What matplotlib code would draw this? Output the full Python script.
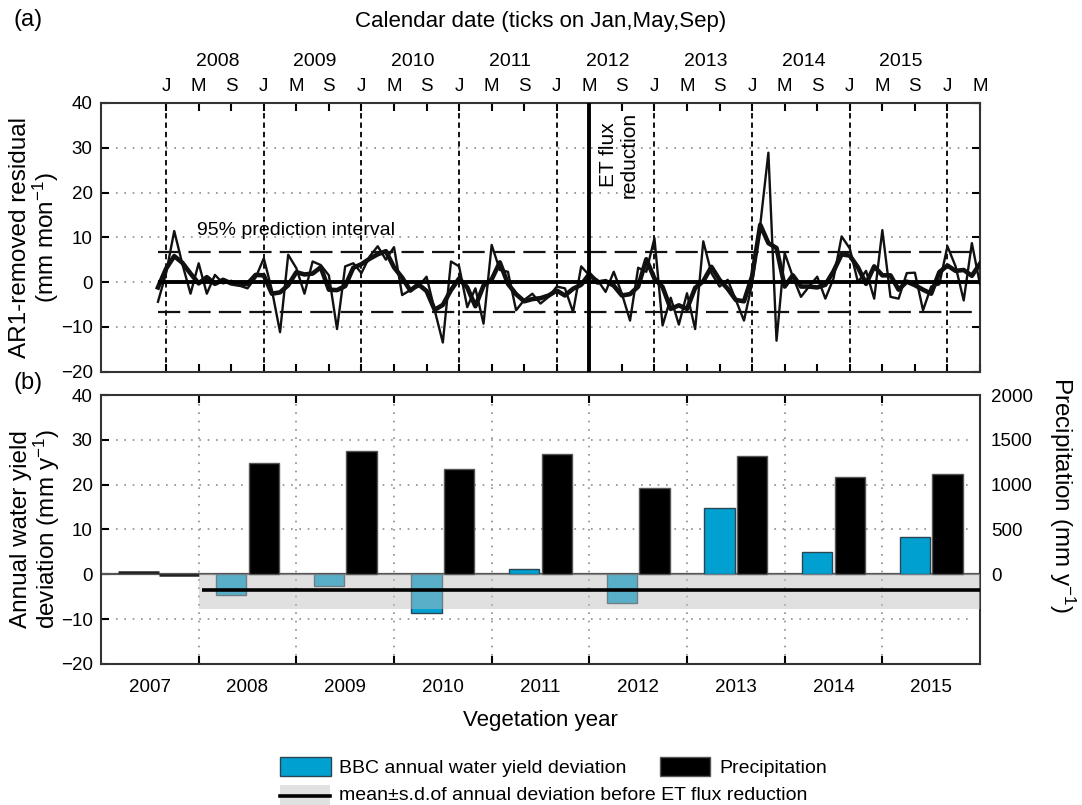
import matplotlib
matplotlib.use("Agg")
import matplotlib.pyplot as plt
import numpy as np
import matplotlib.transforms as mtrans
from matplotlib.patches import Patch, Rectangle
from matplotlib.lines import Line2D

plt.rcParams['font.family'] = ['Liberation Sans', 'DejaVu Sans']
plt.rcParams['mathtext.fontset'] = 'custom'
plt.rcParams['mathtext.rm'] = 'Liberation Sans'
plt.rcParams['mathtext.it'] = 'Liberation Sans'

# ---------------- data ----------------
series_start = (2007, 12)          # first month of the monthly residual series
resid_monthly = [
    -4.4, 2.0, 11.4, 4.0, -2.6, 4.2, -2.6, 1.6, -0.3, 0.3, -0.8, -1.4, 1.0,
    5.3, -1.8, -11.2, 6.1, 3.1, -2.6, 4.6, 3.8, 1.5, -10.5, 3.5, 4.2,
    2.0, 5.7, 8.0, 5.0, 7.8, -2.9, -1.8, -1.0, 1.2, -6.3, -13.5, 4.6,
    3.5, -5.6, -1.4, -9.3, 8.3, 2.7, 2.3, -6.3, -4.0, -2.6, -4.8, -3.3,
    -1.0, -1.4, -6.7, 3.5, 1.5, 0.5, -2.2, 2.3, -2.6, -8.6, 3.2, 2.3,
    9.8, -9.7, -3.5, -9.5, -2.5, -10.5, 9.1, 2.0, -1.0, 0.5, -4.0, -8.6,
    -0.3, 12.8, 28.9, -13.1, 6.5, 1.2, -3.3, -1.0, 1.2, -3.7, 0.8, 10.2,
    7.5, 0.0, 2.5, -3.7, 11.6, -3.3, -3.7, 2.0, 2.1, -6.3, -1.0, -0.5,
    8.0, 3.5, -4.1, 8.7, -0.5]
resid_smooth = [
    -1.2, 3.0, 5.8, 4.3, 1.9, -0.3, 1.1, -0.4, 0.5, -0.3, -0.6, -0.4, 1.6,
    1.5, -2.6, -2.3, -0.7, 2.2, 1.7, 1.9, 3.3, -1.7, -1.8, -0.9, 3.2,
    4.0, 5.2, 6.2, 6.9, 3.3, 1.0, -1.9, -0.5, -2.0, -6.2, -5.1, -1.8,
    0.8, -1.2, -5.4, -0.8, 0.6, 4.4, -0.4, -2.7, -4.3, -3.8, -3.6, -3.0,
    -1.9, -3.0, -1.5, -0.6, 1.8, -0.1, 0.2, -0.8, -3.0, -2.7, -1.0, 5.1,
    0.8, -1.1, -6.0, -5.2, -6.0, -1.3, 0.2, 3.4, 0.5, -1.5, -4.0, -4.3,
    1.3, 12.8, 8.7, 7.6, -1.0, 1.5, -1.0, -1.0, -1.2, -0.6, 2.4, 6.2,
    5.9, 3.3, -0.4, 3.5, 1.5, 1.5, -1.7, 0.1, -0.7, -1.7, -2.6, 2.2,
    3.7, 2.5, 2.7, 1.4, 4.1]
pred_interval = 6.7
et_reduction = (2012, 5)
calendar_years = [2008, 2009, 2010, 2011, 2012, 2013, 2014, 2015]
month_letters = ['J', 'M', 'S']

veg_years = [2008, 2009, 2010, 2011, 2012, 2013, 2014, 2015]
yield_dev = [-4.5, -2.7, -8.6, 1.1, -6.3, 14.9, 4.9, 8.3]
precip = [1244, 1375, 1170, 1340, 964, 1322, 1083, 1117]
all_veg_years = [2007] + veg_years
dev_2007 = [0.45, -0.15]
mean_before = -3.4
band_low, band_high = -7.8, 0.0

BLUE = '#00a0d0'


def mi(year, month):
    """month index relative to Jan 2008"""
    return (year - 2008) * 12 + (month - 1)


fig = plt.figure(figsize=(10.82, 8.05), dpi=100)
H, W = 805.0, 1082.0
L, R = 101, 980
ax1 = fig.add_axes([L / W, 1 - 371.6 / H, (R - L) / W, 268.6 / H])
ax2 = fig.add_axes([L / W, 1 - 664 / H, (R - L) / W, 269 / H])

FS_TICK = 13.5
FS_LAB = 16
dot_ls = (0, (1, 4))
spine_c = '#333333'

# ---------------- panel (a) ----------------
x0 = mi(*series_start)
xs = np.arange(len(resid_monthly)) + x0
xmin, xmax = mi(2007, 5), mi(2016, 5)
ax1.set_xlim(xmin, xmax)
ax1.set_ylim(-20, 40)

for yv in [30, 20, 10, 0, -10]:
    ax1.hlines(yv, xmin + 1.8, xmax - 1, colors='#8c8c8c', linestyles=dot_ls, lw=1.2, zorder=1)
for Y in calendar_years + [2016]:
    ax1.axvline(mi(Y, 1), color='black', ls=(0, (3, 2.2)), lw=1.3, zorder=2)
ax1.axvline(mi(*et_reduction), color='black', lw=2.8, zorder=5)

ax1.hlines([pred_interval, -pred_interval], xs[0], xs[-1], colors='#111111',
           linestyles=(0, (10, 3.7)), lw=1.6, zorder=3)
ax1.plot(xs, resid_monthly, color='#111111', lw=1.7, zorder=4)
ax1.plot(xs, resid_smooth, color='#111111', lw=3.3, zorder=4, solid_joinstyle='round')
ax1.hlines(0, xs[0], xs[-1], colors='black', lw=2.8, zorder=4)

ax1.text(mi(2008, 4) + 0.8, 11.6, '95% prediction interval', fontsize=14,
         ha='left', va='center', zorder=6)
ax1.text(mi(*et_reduction) + 3.6, 28.5, 'ET flux\nreduction', rotation=90, fontsize=15,
         ha='center', va='center', multialignment='center', linespacing=1.1, zorder=6)

tk = list(range(mi(2008, 1), xmax + 1, 4))
ax1.set_xticks(tk)
ax1.set_xticklabels([month_letters[i % 3] for i in range(len(tk))])
ax1.tick_params(axis='x', top=True, bottom=True, labeltop=True, labelbottom=False,
                direction='in', length=6, width=1.5, pad=6, labelsize=FS_TICK)
ax1.set_yticks(range(-20, 41, 10))
ax1.tick_params(axis='y', left=True, right=True, direction='in', length=6, width=1.5,
                pad=6, labelsize=FS_TICK)
trans1 = mtrans.blended_transform_factory(ax1.transData, ax1.transAxes)
for Y in calendar_years:
    ax1.text(mi(Y, 7) + 0.3, 1.155, str(Y), transform=trans1, ha='center', va='center',
             fontsize=14)
for s in ax1.spines.values():
    s.set_linewidth(1.5)
    s.set_color(spine_c)

# ---------------- panel (b) ----------------
ax2.set_xlim(xmin, xmax)
ax2.set_ylim(-20, 40)
for yv in [30, 20, 10, -10]:
    ax2.hlines(yv, xmin + 1.8, xmax - 1, colors='#8c8c8c', linestyles=dot_ls, lw=1.2, zorder=1)
for Y in veg_years:
    ax2.axvline(mi(Y, 5), color='#8c8c8c', ls=dot_ls, lw=1.2, zorder=1)

ax2.axhline(0, color='#555555', lw=1.6, zorder=2)
veg_start = np.array([mi(Y, 5) for Y in veg_years])
bw = 3.7
ax2.bar(veg_start + 4, yield_dev, width=bw, color=BLUE, edgecolor='#2b4652', lw=1.0, zorder=3)

# partial 2007 vegetation year
s07 = mi(2007, 5)
ax2.hlines(dev_2007[0], s07 + 2.1, s07 + 7.1, colors='#222222', lw=1.8, zorder=3)
ax2.hlines(dev_2007[1], s07 + 7.1, s07 + 12, colors='#222222', lw=1.8, zorder=3)

ax2.fill_between([veg_start[0], xmax], band_low, band_high, color='#bfbfbf', alpha=0.47,
                 lw=0, zorder=4)
ax2.hlines(mean_before, veg_start[0] + 0.4, xmax, colors='black', lw=2.6, zorder=5)

ax2.set_xticks(list(veg_start))
ax2.set_xticklabels([])
ax2.set_xticks([mi(Y, 5) + 6 for Y in all_veg_years], minor=True)
ax2.set_xticklabels([str(Y) for Y in all_veg_years], minor=True)
ax2.tick_params(axis='x', which='major', top=True, bottom=True, direction='in', length=6,
                width=1.5)
ax2.tick_params(axis='x', which='minor', length=0, pad=11, labelsize=FS_TICK)
ax2.set_yticks(range(-20, 41, 10))
ax2.tick_params(axis='y', left=True, right=True, direction='in', length=6, width=1.5,
                pad=6, labelsize=FS_TICK)
for s in ax2.spines.values():
    s.set_linewidth(1.5)
    s.set_color(spine_c)

ax2r = ax2.twinx()
ax2r.set_ylim(-1000, 2000)
ax2r.bar(veg_start + 8, precip, width=bw, color='black', edgecolor='#555555', lw=1.0, zorder=3)
ax2r.set_yticks([0, 500, 1000, 1500, 2000])
ax2r.tick_params(axis='y', length=0, pad=8, labelsize=FS_TICK)
for s in ax2r.spines.values():
    s.set_visible(False)

# ---------------- texts ----------------
fig.text(28 / W, 1 - 20 / H, '(a)', fontsize=17, ha='center', va='center')
fig.text(28 / W, 1 - 383 / H, '(b)', fontsize=17, ha='center', va='center')
fig.text(540.5 / W, 1 - 22 / H, 'Calendar date (ticks on Jan,May,Sep)', fontsize=FS_LAB,
         ha='center', va='center')
fig.text(540.5 / W, 1 - 720 / H, 'Vegetation year', fontsize=FS_LAB, ha='center', va='center')
fig.text(35 / W, 1 - 237 / H, 'AR1-removed residual\n(mm mon$^{-1}$)', fontsize=17.5,
         rotation=90, ha='center', va='center', multialignment='center', linespacing=0.95)
fig.text(36 / W, 1 - 529.5 / H, 'Annual water yield\ndeviation (mm y$^{-1}$)', fontsize=17.5,
         rotation=90, ha='center', va='center', multialignment='center', linespacing=0.95)
fig.text(1062 / W, 1 - 495 / H, 'Precipitation (mm y$^{-1}$)', fontsize=17.5,
         rotation=270, ha='center', va='center')

# ---------------- legend ----------------
h_blue = Patch(facecolor=BLUE, edgecolor='#2b4652', lw=1.0)
h_black = Patch(facecolor='black', edgecolor='#555555', lw=1.0)
leg1 = fig.legend([h_blue, h_black], ['BBC annual water yield deviation', 'Precipitation'],
                  ncol=2, loc='upper left', bbox_to_anchor=(280 / W, 1 - 757 / H),
                  frameon=False, fontsize=14, handlelength=2.6, handleheight=1.15,
                  handletextpad=0.45, columnspacing=1.7, borderpad=0, borderaxespad=0)

# second legend row: band swatch with mean line
fig.add_artist(Rectangle((280 / W, 1 - 805 / H), 50 / W, 20 / H, transform=fig.transFigure,
                         facecolor='#e1e1e1', edgecolor='none'))
fig.add_artist(Line2D([280 / W, 330 / W], [1 - 796 / H, 1 - 796 / H], transform=fig.transFigure,
                      color='black', lw=2.6))
fig.text(339 / W, 1 - 795 / H, 'mean\u00b1s.d.of annual deviation before ET flux reduction',
         fontsize=14, ha='left', va='center')

fig.savefig('out.png', dpi=100)
